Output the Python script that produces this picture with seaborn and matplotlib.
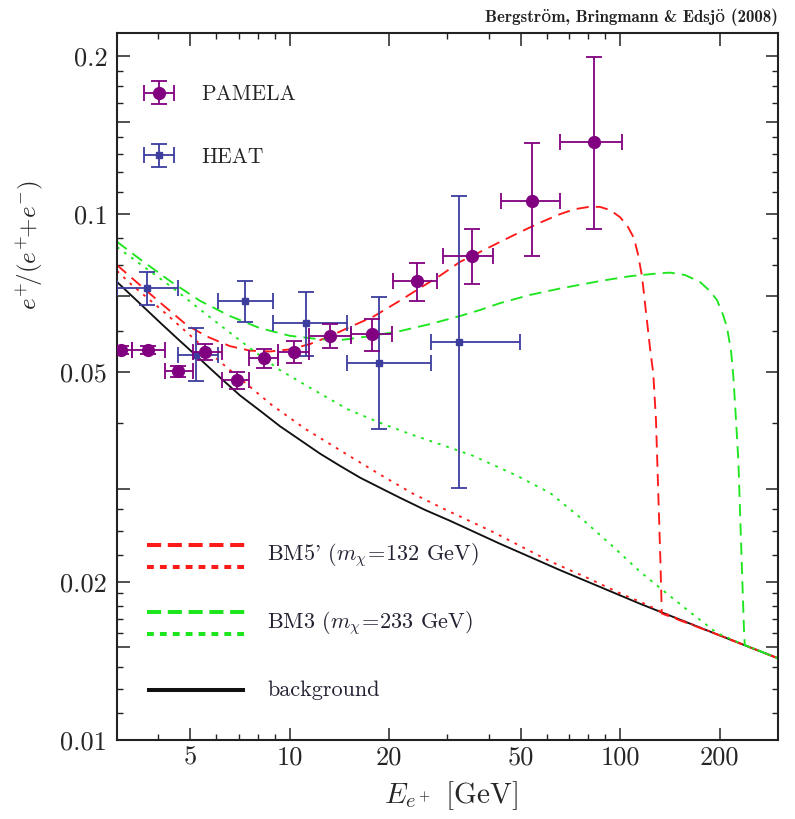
import numpy as np
import pandas as pd
import matplotlib
matplotlib.use("Agg")
import matplotlib.pyplot as plt
from matplotlib.ticker import FixedLocator, FixedFormatter, NullFormatter
from matplotlib.container import ErrorbarContainer
from matplotlib.legend_handler import HandlerErrorbar
import seaborn as sns

# ---------------- positron fraction data ----------------
# PAMELA: bin centre, bin edges, value and error-band limits
pam_E = np.array([3.08, 3.72, 4.6, 5.54, 6.9, 8.36, 10.3, 13.2, 17.7, 24.2, 35.5, 53.9, 83.2])
pam_Elo = np.array([2.85, 3.33, 4.19, 5.1, 6.24, 7.5, 9.2, 11.4, 15.3, 20.5, 29.1, 43.5, 65.5])
pam_Ehi = np.array([3.33, 4.19, 5.1, 6.24, 7.5, 9.2, 11.4, 15.3, 20.4, 27.9, 41.2, 65.5, 101.0])
pam_y = np.array([0.0551, 0.0551, 0.0503, 0.0547, 0.0483, 0.0532, 0.0547, 0.0587, 0.0591, 0.0746, 0.0832, 0.106, 0.137])
pam_ylo = np.array([0.0541, 0.0541, 0.0491, 0.0528, 0.0466, 0.0509, 0.0521, 0.0556, 0.0550, 0.0684, 0.0736, 0.0832, 0.0936])
pam_yhi = np.array([0.0561, 0.0561, 0.0515, 0.0566, 0.0500, 0.0555, 0.0573, 0.0618, 0.0632, 0.0808, 0.0936, 0.1367, 0.199])

# HEAT
heat_E = np.array([3.69, 5.2, 7.32, 11.2, 18.6, 32.6])
heat_Elo = np.array([3.0, 4.58, 6.06, 8.9, 14.9, 26.7])
heat_Ehi = np.array([4.58, 6.06, 8.9, 14.9, 26.7, 49.7])
heat_y = np.array([0.0724, 0.054, 0.0684, 0.0621, 0.0521, 0.057])
heat_ylo = np.array([0.0672, 0.0481, 0.0623, 0.0537, 0.0391, 0.0301])
heat_yhi = np.array([0.0775, 0.0608, 0.0747, 0.0712, 0.0696, 0.1082])

# ---------------- model curves ----------------
E_bg = [3, 3.52, 4.05, 4.65, 5.35, 6.15, 7.07, 8.12, 9.34, 10.74, 12.34, 14.2, 16.3, 18.7, 21.5, 25.6,
        30.5, 43.2, 65.7, 114.7, 200.3, 300]
y_bg = [0.0743, 0.0676, 0.0622, 0.0574, 0.053, 0.0489, 0.0452, 0.0423, 0.0395, 0.0372, 0.03504, 0.0332,
        0.03155, 0.0302, 0.0289, 0.0274, 0.02612, 0.02362, 0.02104, 0.01816, 0.0158, 0.0143]

E_bm5_dash = [3, 3.52, 4.05, 4.88, 5.62, 6.59, 7.58, 8.71, 10.0, 11.5, 13.23, 15.2, 17.86, 21.5, 24.2,
              28.5, 32.7, 37.6, 43.2, 49.7, 57.1, 65.7, 72.9, 81.0, 86.8, 93.1, 99.8, 105.5, 110,
              113.1, 116.3, 119.6, 123, 125.8, 128.2, 130.3, 132.2, 133.5, 200.3, 300]
y_bm5_dash = [0.0800, 0.0733, 0.0679, 0.0615, 0.0585, 0.0561, 0.0550, 0.0548, 0.0553, 0.0566, 0.0586,
              0.0610, 0.0638, 0.0684, 0.0717, 0.0764, 0.0811, 0.0847, 0.0885, 0.0924, 0.0963, 0.1000,
              0.1022, 0.1033, 0.1032, 0.1018, 0.0987, 0.0945, 0.0900, 0.0839, 0.0762, 0.0651, 0.0556,
              0.0498, 0.0406, 0.0294, 0.0220, 0.0174, 0.0158, 0.0143]

E_bm5_dot = [3, 3.33, 4.1, 5.2, 6.24, 8.8, 11.1, 14.9, 18.7, 23.6, 30, 41, 61, 80, 100, 120, 133.5, 200.3, 300]
y_bm5_dot = [0.078, 0.0733, 0.0657, 0.0575, 0.052, 0.0434, 0.0391, 0.0349, 0.0320, 0.0294, 0.0273, 0.0249,
             0.0219, 0.0203, 0.0190, 0.0181, 0.0175, 0.0158, 0.0143]

E_bm3_dash = [3, 3.52, 4.34, 5.35, 6.59, 8.12, 10.0, 12.34, 14.2, 17.5, 21.5, 26.6, 32.7, 37.6, 43.2,
              53.3, 65.7, 86.8, 107, 131.8, 141.3, 156.9, 174.2, 186.8, 196.2, 204.6, 210, 216.2,
              219.8, 223.9, 227.6, 231.8, 236.7, 238, 300]
y_bm3_dash = [0.0886, 0.0821, 0.0746, 0.0684, 0.0640, 0.0607, 0.0587, 0.0578, 0.0576, 0.0586, 0.0599,
              0.0618, 0.0640, 0.0657, 0.0677, 0.0702, 0.0722, 0.0746, 0.0762, 0.0772, 0.0774, 0.0766,
              0.0743, 0.0714, 0.0686, 0.0643, 0.0611, 0.0551, 0.0491, 0.0406, 0.0340, 0.0240, 0.0162,
              0.01515, 0.0143]

E_bm3_dot = [3, 3.33, 4.4, 5.82, 7.58, 9.34, 11.42, 14.9, 18.75, 23.6, 28.5, 35.9, 48.7, 61.3, 77.2,
             95.2, 114.7, 134, 162.6, 196.2, 238, 300]
y_bm3_dot = [0.0866, 0.0825, 0.0726, 0.0632, 0.0556, 0.0505, 0.0469, 0.0426, 0.0401, 0.0380, 0.0365,
             0.0347, 0.0318, 0.0295, 0.0262, 0.0233, 0.0209, 0.0193, 0.0175, 0.01597, 0.01515, 0.0143]

curve_order = ["background", "BM5' dotted", "BM5' dashed", "BM3 dotted", "BM3 dashed"]
curves = pd.concat([
    pd.DataFrame({"E": E_bg, "ratio": y_bg, "curve": "background"}),
    pd.DataFrame({"E": E_bm5_dot, "ratio": y_bm5_dot, "curve": "BM5' dotted"}),
    pd.DataFrame({"E": E_bm5_dash, "ratio": y_bm5_dash, "curve": "BM5' dashed"}),
    pd.DataFrame({"E": E_bm3_dot, "ratio": y_bm3_dot, "curve": "BM3 dotted"}),
    pd.DataFrame({"E": E_bm3_dash, "ratio": y_bm3_dash, "curve": "BM3 dashed"}),
], ignore_index=True)

# axis ticks
x_major = [5, 10, 20, 50, 100, 200]
x_labels = ["5", "10", "20", "50", "100", "200"]
x_minor = [4, 6, 7, 8, 9, 30, 40, 60, 70, 80, 90]
y_major = [0.01, 0.015, 0.02, 0.03, 0.05, 0.07, 0.1, 0.15, 0.2]
y_labels = ["0.01", "", "0.02", "", "0.05", "", "0.1", "", "0.2"]
y_minor = [0.01125, 0.0125, 0.01375, 0.016, 0.017, 0.018, 0.019, 0.0225, 0.025, 0.0275,
           0.04, 0.06, 0.08, 0.09, 0.11, 0.12, 0.13, 0.14, 0.1625, 0.175, 0.1875]

# ---------------- style ----------------
sns.set_theme(style="ticks")
plt.rcParams["font.family"] = ["cmr10", "DejaVu Serif"]
plt.rcParams["mathtext.fontset"] = "cm"
plt.rcParams["axes.formatter.use_mathtext"] = True

RED = "#ff1a1a"
GREEN = "#1ee61e"
PURPLE = "#800080"
BLUE = "#3d3d9e"

fig = plt.figure(figsize=(7.95, 8.19), dpi=100)
ax = fig.add_axes([117 / 795, 79 / 819, 661 / 795, 707 / 819])
ax.set_xscale("log")
ax.set_yscale("log")

palette = {"background": "#111111", "BM5' dotted": RED, "BM5' dashed": RED,
           "BM3 dotted": GREEN, "BM3 dashed": GREEN}
dashes = {"background": "", "BM5' dotted": (1.5, 3.2), "BM5' dashed": (6.5, 3.8),
          "BM3 dotted": (1.5, 3.2), "BM3 dashed": (6.5, 3.8)}

sns.lineplot(data=curves, x="E", y="ratio", hue="curve", style="curve",
             hue_order=curve_order, style_order=curve_order,
             palette=palette, dashes=dashes, estimator=None, sort=False,
             linewidth=1.35, legend=False, ax=ax)

# data points with error bars
pam = ax.errorbar(pam_E, pam_y,
                  xerr=[pam_E - pam_Elo, pam_Ehi - pam_E],
                  yerr=[pam_y - pam_ylo, pam_yhi - pam_y],
                  fmt="o", color=PURPLE, ms=8.5, elinewidth=1.3, capsize=5.5, capthick=1.3, zorder=6)
heat = ax.errorbar(heat_E, heat_y,
                   xerr=[heat_E - heat_Elo, heat_Ehi - heat_E],
                   yerr=[heat_y - heat_ylo, heat_yhi - heat_y],
                   fmt="s", color=BLUE, ms=5, elinewidth=1.3, capsize=5.5, capthick=1.3, zorder=5)

ax.set_xlim(3, 300)
ax.set_ylim(0.01, 0.221)

ax.xaxis.set_major_locator(FixedLocator(x_major))
ax.xaxis.set_major_formatter(FixedFormatter(x_labels))
ax.xaxis.set_minor_locator(FixedLocator(x_minor))
ax.xaxis.set_minor_formatter(NullFormatter())
ax.yaxis.set_major_locator(FixedLocator(y_major))
ax.yaxis.set_major_formatter(FixedFormatter(y_labels))
ax.yaxis.set_minor_locator(FixedLocator(y_minor))
ax.yaxis.set_minor_formatter(NullFormatter())

ax.tick_params(which="both", direction="in", top=True, right=True, color="#222222")
ax.tick_params(which="major", length=9, width=1.1, labelsize=19)
ax.tick_params(axis="x", which="major", pad=4)
ax.tick_params(axis="y", which="major", pad=7)
ax.tick_params(which="minor", length=4.5, width=1.0)
for s in ax.spines.values():
    s.set_linewidth(1.5)
    s.set_color("#222222")

ax.set_xlabel(r"$E_{e^+}$ [GeV]", fontsize=21)
ax.xaxis.set_label_coords(0.505, -0.055)
ax.set_ylabel(r"$e^{+}\!/(e^{+}\!\!+\!e^{-})$", fontsize=18)
ax.yaxis.set_label_coords(-0.109, 0.70)

# data legend (upper left)
ax.legend([pam, heat], ["PAMELA", "HEAT"], loc="upper left", bbox_to_anchor=(0.041, 0.927),
          frameon=False, fontsize=15.5, handlelength=1.4, handletextpad=1.25, labelspacing=2.0,
          borderaxespad=0, borderpad=0,
          handler_map={ErrorbarContainer: HandlerErrorbar(xerr_size=0.7, yerr_size=0.53)})

# model legend (lower left)
lx = [0.045, 0.194]
key_rows = [
    (0.276, RED, (0, (3.5, 1.66))),
    (0.245, RED, (0, (1.7, 1.5))),
    (0.181, GREEN, (0, (3.5, 1.66))),
    (0.150, GREEN, (0, (1.7, 1.5))),
    (0.0707, "#111111", "-"),
]
for yy, col, ls in key_rows:
    ax.plot(lx, [yy, yy], transform=ax.transAxes, color=col, lw=2.9, linestyle=ls,
            dash_capstyle="butt", solid_capstyle="butt", clip_on=False)
ax.text(0.227, 0.261, r"BM5' ($m_\chi\!=\!132$ GeV)", transform=ax.transAxes,
        fontsize=16, va="center", ha="left", color="#222233")
ax.text(0.227, 0.166, r"BM3 ($m_\chi\!=\!233$ GeV)", transform=ax.transAxes,
        fontsize=16, va="center", ha="left", color="#222233")
ax.text(0.227, 0.0707, "background", transform=ax.transAxes,
        fontsize=16, va="center", ha="left", color="#222233")

fig.text(778 / 795, 1 - 17 / 819, "Bergström, Bringmann & Edsjö (2008)",
         ha="right", va="center", fontsize=12.2, family=["cmb10", "DejaVu Serif"], color="#222222")

fig.savefig("out.png", dpi=100)
